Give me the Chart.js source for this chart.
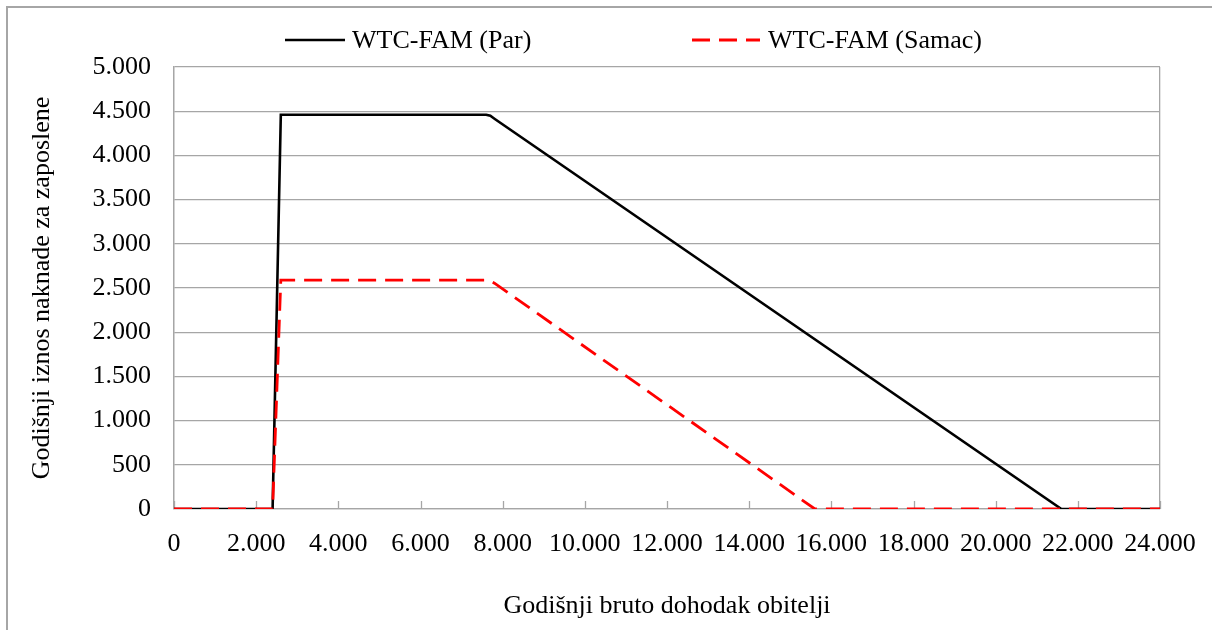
<!DOCTYPE html>
<html><head><meta charset="utf-8">
<script src="https://cdn.jsdelivr.net/npm/chart.js@4"></script>
<style>html,body{margin:0;padding:0;background:#fff;}#wrap{width:1212px;height:630px;position:relative;}</style>
</head><body><div id="wrap"><canvas id="c" width="1212" height="630"></canvas></div>
<script>
// ---- data ----
const parX   = [0, 2400, 2600, 7600, 7700, 7800, 21600, 24000];
const parY   = [0, 0, 4460, 4460, 4448, 4415, 0, 0];
const samacX = [0, 2400, 2600, 7600, 7700, 7800, 15600, 24000];
const samacY = [0, 0, 2590, 2590, 2578, 2555, 0, 0];
const seriesNames = ['WTC-FAM (Par)', 'WTC-FAM (Samac)'];
const xTickLabels = ['0','2.000','4.000','6.000','8.000','10.000','12.000','14.000','16.000','18.000','20.000','22.000','24.000'];
const yTickLabels = ['0','500','1.000','1.500','2.000','2.500','3.000','3.500','4.000','4.500','5.000'];
const xTitle = 'Godišnji bruto dohodak obitelji';
const yTitle = 'Godišnji iznos naknade za zaposlene';

const FONT = '"Liberation Serif", "Times New Roman", serif';
const GRID = '#a6a6a6';
const zip = (xs, ys) => xs.map((x, i) => ({x, y: ys[i]}));

const framePlugin = {
  id: 'frame',
  beforeDraw(chart) {
    const ctx = chart.ctx;
    ctx.save();
    ctx.fillStyle = '#fff';
    ctx.fillRect(0, 0, chart.width, chart.height);
    ctx.strokeStyle = GRID; ctx.lineWidth = 2;
    ctx.beginPath();
    ctx.moveTo(7, chart.height); ctx.lineTo(7, 7); ctx.lineTo(chart.width, 7);
    ctx.stroke();
    ctx.restore();
  },
  beforeDatasetsDraw(chart) {
    const ctx = chart.ctx, xs = chart.scales.x, bottom = chart.chartArea.bottom;
    ctx.save();
    ctx.strokeStyle = GRID; ctx.lineWidth = 1.3;
    xs.ticks.forEach(t => {
      const px = Math.round(xs.getPixelForValue(t.value)) + 0.5;
      ctx.beginPath(); ctx.moveTo(px, bottom); ctx.lineTo(px, bottom - 8); ctx.stroke();
    });
    ctx.restore();
  },
  afterDraw(chart) {
    const ctx = chart.ctx;
    const spots = [{x0: 285, x1: 345, tx: 352}, {x0: 692, x1: 760, tx: 768}];
    const y = 40;
    ctx.save();
    chart.data.datasets.forEach((ds, i) => {
      const s = spots[i];
      ctx.strokeStyle = ds.borderColor; ctx.lineWidth = ds.borderWidth;
      ctx.setLineDash(ds.borderDash || []);
      ctx.beginPath(); ctx.moveTo(s.x0, y); ctx.lineTo(s.x1, y); ctx.stroke();
      ctx.setLineDash([]);
      ctx.fillStyle = '#000'; ctx.font = '26px ' + FONT; ctx.textBaseline = 'middle'; ctx.textAlign = 'left';
      ctx.fillText(ds.label, s.tx, y + 1);
    });
    ctx.restore();
  }
};

new Chart(document.getElementById('c'), {
  type: 'line',
  data: {
    datasets: [
      {label: seriesNames[0], data: zip(parX, parY), borderColor: '#000000', borderWidth: 2.6, pointRadius: 0, fill: false, tension: 0, order: 1},
      {label: seriesNames[1], data: zip(samacX, samacY), borderColor: '#ff0000', borderWidth: 2.8, borderDash: [18, 9], pointRadius: 0, fill: false, tension: 0, order: 0}
    ]
  },
  options: {
    responsive: false, animation: false, devicePixelRatio: 1,
    layout: {padding: {left: 14, right: 52, top: 67, bottom: 0}},
    plugins: {legend: {display: false}, tooltip: {enabled: false}},
    scales: {
      x: {
        type: 'linear', min: 0, max: 24000,
        afterFit(s) { s.height = 121; s.paddingLeft = 0; s.paddingRight = 0; },
        ticks: {stepSize: 2000, color: '#000', font: {family: FONT, size: 26}, padding: 20, maxRotation: 0, autoSkip: false,
          callback: (v, i) => xTickLabels[i]},
        grid: {drawTicks: false, lineWidth: 1.3, color: ctx => (ctx.index === 0 || ctx.index === xTickLabels.length - 1) ? GRID : 'rgba(0,0,0,0)'},
        border: {display: true, color: GRID, width: 1.3},
        title: {display: true, text: xTitle, color: '#000', font: {family: FONT, size: 26}, padding: {top: 0, bottom: 8}}
      },
      y: {
        min: 0, max: 5000,
        afterFit(s) { s.width = 160; s.paddingTop = 0; s.paddingBottom = 0; },
        ticks: {stepSize: 500, color: '#000', font: {family: FONT, size: 26}, padding: 23,
          callback: (v, i) => yTickLabels[i]},
        grid: {drawTicks: false, color: GRID, lineWidth: 1.3},
        border: {display: true, color: GRID, width: 1.3},
        title: {display: true, text: yTitle, color: '#000', font: {family: FONT, size: 26}, padding: {top: 13, bottom: 0}}
      }
    }
  },
  plugins: [framePlugin]
});
</script></body></html>
